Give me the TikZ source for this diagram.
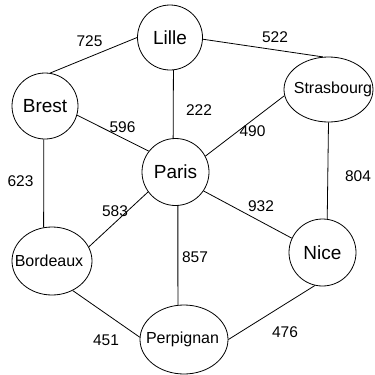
\documentclass[tikz,border=0pt]{standalone}
\usepackage{fontspec}
\setmainfont{Liberation Sans}
\usetikzlibrary{shapes.geometric}
\begin{document}
\begin{tikzpicture}[x=1pt,y=-1pt,
  city/.style={draw, circle, inner sep=0pt, minimum size=66pt, line width=0.8pt, font=\fontsize{19}{22}\selectfont},
  ecity/.style={draw, ellipse, inner sep=0pt, line width=0.8pt, font=\fontsize{16}{19}\selectfont},
  dist/.style={font=\fontsize{15.5}{18}\selectfont, inner sep=0pt},
  road/.style={line width=0.8pt}]
\useasboundingbox (0,0) rectangle (375,375);
\node[city, minimum size=65pt] (lille) at (170,37.5) {Lille};
\node[city] (brest) at (45,106) {Brest};
\node[city, minimum size=67pt] (paris) at (175.5,172) {Paris};
\node[city, minimum size=67pt] (nice) at (322.5,252.5) {Nice};
\node[ecity, minimum width=89pt, minimum height=65pt] (stras) at (328.5,89.5) {\makebox[0pt]{\hspace{9pt}Strasbourg}};
\node[ecity, minimum width=80pt, minimum height=68pt] (bord) at (52,261) {\makebox[0pt]{Bordeaux\hspace{6pt}}};
\node[ecity, minimum width=88pt, minimum height=69pt] (perp) at (184,339.5) {\makebox[0pt]{Perpignan\hspace{3pt}}};

\draw[road] (lille.180) -- (brest.81);
\draw[road] (lille.-3) -- (stras.100);
\draw[road] (lille.-84) -- (paris.94);
\draw[road] (brest.-16) -- (paris.142);
\draw[road] (stras.188) -- (paris.28);
\draw[road] (brest.-92) -- (bord.104);
\draw[road] (stras.-90) -- (nice.82);
\draw[road] (paris.216) -- (bord.21);
\draw[road] (paris.-34) -- (nice.155);
\draw[road] (paris.-86) -- (perp.100);
\draw[road] (bord.-55) -- (perp.177);
\draw[road] (nice.-103) -- (perp.0);

\node[dist] (d725) at (89.5,41) {725};
\node[dist] (d522) at (275,37.5) {522};
\node[dist] (d222) at (199,110) {222};
\node[dist] (d596) at (122.5,127) {596};
\node[dist] (d490) at (252.5,131.5) {490};
\node[dist] (d623) at (20.5,181) {623};
\node[dist] (d804) at (358,176.5) {804};
\node[dist] (d583) at (115,211.5) {583};
\node[dist] (d932) at (261,206.5) {932};
\node[dist] (d857) at (195,257.5) {857};
\node[dist] (d451) at (106,340.5) {451};
\node[dist] (d476) at (285,332.5) {476};
\end{tikzpicture}
\end{document}
